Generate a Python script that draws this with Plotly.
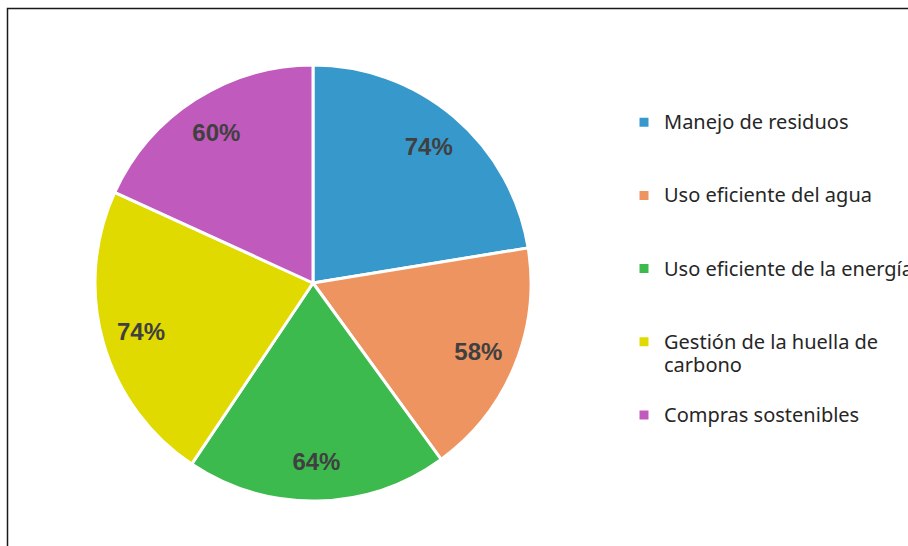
import plotly.graph_objects as go

categories = ["Manejo de residuos", "Uso eficiente del agua", "Uso eficiente de la energía",
              "Gestión de la huella de carbono", "Compras sostenibles"]
legend_labels = ["Manejo de residuos", "Uso eficiente del agua", "Uso eficiente de la energía",
                 "Gestión de la huella de<br>carbono", "Compras sostenibles"]
values = [74, 58, 64, 74, 60]
colors = ["#3798cb", "#ee9460", "#3dba4e", "#e0da00", "#c05abd"]

W, H = 908, 546
cx, cy, r = 313, 283, 218
dom = dict(x=[(cx - r) / W, (cx + r) / W], y=[(H - cy - r) / H, (H - cy + r) / H])


# each legend entry is padded to 3 lines so the entries are evenly spaced
def pad(lbl):
    n = lbl.count("<br>") + 1
    parts = lbl.split("<br>")
    big = "<br>".join("<span style='font-size:20px'>%s</span>" % p for p in parts)
    return big + "<br>\u00a0" * (3 - n)


fig = go.Figure()
fig.add_trace(go.Pie(
    labels=[pad(l) for l in legend_labels],
    values=values,
    sort=False,
    direction="clockwise",
    rotation=0,
    marker=dict(colors=colors, line=dict(color="white", width=3)),
    textinfo="none",
    domain=dom,
    hoverinfo="label+value",
))
# transparent ring on top, used only to place the value labels further out
fig.add_trace(go.Pie(
    labels=categories,
    values=values,
    sort=False,
    direction="clockwise",
    rotation=0,
    hole=0.64,
    marker=dict(colors=["rgba(0,0,0,0)"] * len(values), line=dict(width=0)),
    texttemplate="<b>%{value}%</b>",
    textposition="inside",
    insidetextorientation="horizontal",
    textfont=dict(family="Liberation Sans, Arial, sans-serif", size=24, color="#404040"),
    domain=dom,
    showlegend=False,
    hoverinfo="skip",
))

fig.update_layout(
    width=W, height=H,
    margin=dict(l=0, r=0, t=0, b=0, autoexpand=False),
    paper_bgcolor="white",
    plot_bgcolor="white",
    showlegend=True,
    legend=dict(
        x=(664 - 40) / W, xanchor="left",
        y=1 - 104 / H, yanchor="top",
        valign="top",
        font=dict(family="Noto Sans, Lato, sans-serif", size=18, color="#262626"),
        bgcolor="rgba(0,0,0,0)",
        tracegroupgap=0,
    ),
    shapes=[dict(type="rect", xref="paper", yref="paper",
                 x0=7.5 / W, x1=1.2, y0=-0.2, y1=1 - 8.5 / H,
                 line=dict(color="#1a1a1a", width=1.5), fillcolor="rgba(0,0,0,0)")],
)

fig.write_html("out.html")
